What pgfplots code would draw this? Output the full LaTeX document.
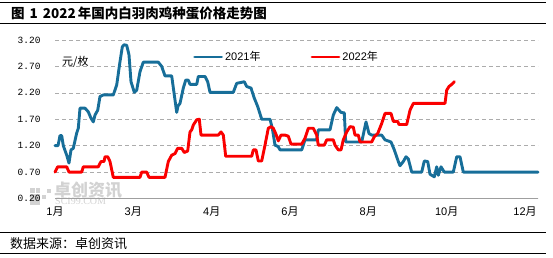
\documentclass[border=0pt]{standalone}
\usepackage{fontspec}
\usepackage{pgfplots}
\pgfplotsset{compat=1.18}
\setmainfont{Liberation Sans}
\newfontfamily\cjk{Noto Sans CJK SC}
\newfontfamily\monof{Liberation Mono}
\newfontfamily\serf{Liberation Serif}
\definecolor{c21}{RGB}{23,110,153}
\definecolor{c22}{RGB}{250,0,0}
\definecolor{wm}{RGB}{210,210,210}
\begin{document}
\begin{tikzpicture}[x=1pt,y=1pt]
\useasboundingbox (0,0) rectangle (553,257);
% header and footer rules
\draw[line width=0.9pt] (0,254.7) -- (546,254.7);
\draw[line width=0.9pt] (0,233.7) -- (546,233.7);
\node[anchor=west, inner sep=0pt, font=\cjk\bfseries\fontsize{13.5}{15}\selectfont] at (11,243.5) {图\hspace{5pt}1\hspace{5pt}2022\hspace{2pt}年国内白羽肉鸡种蛋价格走势图};
\draw[line width=0.9pt] (0,24.7) -- (546,24.7);
\draw[line width=0.9pt] (0,3.7) -- (546,3.7);
\node[anchor=west, inner sep=0pt, font=\cjk\fontsize{13}{14}\selectfont] at (10,13.5) {数据来源：卓创资讯};
% watermark
\fill[wm] (30,52) rectangle (40,63);
\fill[wm] (30,64) rectangle (35,69);
\fill[wm] (36,64) rectangle (40,69);
\fill[wm] (42,58) rectangle (46,62);
\fill[wm] (47,64) rectangle (51,68);
\node[anchor=west, inner sep=0pt, text=wm, font=\cjk\bfseries\fontsize{17}{18}\selectfont] at (54,67) {卓创资讯};
\node[anchor=west, inner sep=0pt, text=wm, font=\serf\fontsize{10}{11}\selectfont] at (55,55.5) {SCI99.COM};
% unit
\node[anchor=west, inner sep=0pt, font=\cjk\fontsize{11}{12}\selectfont] at (62,195) {元/枚};
\begin{axis}[
  at={(55pt,58.5pt)}, anchor=south west,
  scale only axis, width=483pt, height=158.5pt,
  xmin=0, xmax=483, ymin=0.2, ymax=3.2,
  ytick={0.2,0.7,1.2,1.7,2.2,2.7,3.2},
  /pgf/number format/assume math mode=true,
  yticklabel={\monof\pgfmathprintnumber[fixed,fixed zerofill,precision=2]{\tick}},
  xtick={0,78.3,156.7,235,313.3,391.7,470},
  xticklabels={1{\cjk 月},3{\cjk 月},4{\cjk 月},6{\cjk 月},8{\cjk 月},10{\cjk 月},12{\cjk 月}},
  axis x line*=bottom, axis y line*=left,
  x axis line style={draw=gray!75, line width=0.9pt, -},
  y axis line style={draw=none, -},
  major tick length=0pt,
  ymajorgrids,
  grid style={gray!65, line width=0.6pt, dash pattern=on 4pt off 3pt},
  ticklabel style={font=\fontsize{11}{12}\selectfont, text=black},
  yticklabel style={xshift=-11pt, font=\fontsize{9.5}{11}\selectfont},
  xticklabel style={yshift=-5pt},
  legend columns=2,
  legend style={draw=none, fill=none, at={(0.2857,0.893)}, anchor=west, inner sep=0pt,
    font=\fontsize{11}{12}\selectfont,
    /tikz/every even column/.append style={column sep=48pt}},
  legend image code/.code={\draw[#1] (0pt,0pt) -- (27pt,0pt);},
  every axis plot/.append style={line width=2.9pt, line join=round, line cap=round},
  clip=false,
]
\addplot[c21] coordinates {
(0,1.20) (3,1.20) (5,1.39) (6.7,1.39) (8.3,1.20) (11.7,1.02) (14,0.87) (16,1.12) (18.3,1.15) (21.7,1.44) (23.3,1.53) (25,1.91) (30,1.91) (33.3,1.84) (36,1.72) (38.3,1.65) (40,1.78) (42.7,1.87) (45,2.13) (48.3,2.16) (58.3,2.16) (61.7,2.35) (65,2.79) (67.3,3.07) (69,3.11) (71.7,3.10) (74,2.92) (76,2.41) (79.3,2.21) (81.7,2.25) (85,2.60) (88.3,2.78) (103.3,2.78) (106.7,2.70) (110,2.52) (116.7,2.52) (119.3,2.16) (121.7,1.83) (123,1.95) (125,2.00) (128.3,2.29) (130.7,2.44) (133.3,2.44) (135,2.36) (141.7,2.36) (143.3,2.51) (150,2.51) (152.7,2.41) (155,2.21) (178.3,2.21) (181.7,2.38) (189.3,2.41) (191.7,2.32) (196,2.29) (199.3,2.10) (202.7,1.94) (206.7,1.70) (215,1.70) (217.3,1.53) (220,1.21) (223.3,1.18) (225,1.12) (246.7,1.12) (250,1.31) (261.7,1.31) (263.3,1.50) (275,1.50) (278.3,1.78) (281.7,1.92) (286,1.83) (289.3,1.82) (290.7,1.27) (306.7,1.27) (311,1.65) (314,1.43) (316.7,1.40) (326.7,1.40) (330,1.31) (336,1.27) (339.3,1.12) (343.3,0.90) (345,0.82) (348.3,0.90) (351,0.99) (353.3,0.95) (356.7,0.70) (366.7,0.70) (369.3,0.91) (372.7,0.90) (375,0.66) (379.3,0.61) (381.7,0.80) (383.3,0.64) (386,0.80) (389.3,0.70) (398.3,0.70) (401.7,0.99) (405,0.99) (408.3,0.70) (483,0.70)
};
\addlegendentry{2021{\cjk 年}}
\addplot[c22] coordinates {
(0,0.70) (2.7,0.80) (11.7,0.80) (14,0.70) (26.7,0.70) (28.3,0.80) (43.3,0.80) (46,0.90) (49,0.90) (50,0.99) (52.7,0.99) (55,0.90) (58.3,0.60) (85,0.60) (86.7,0.70) (91.7,0.70) (94,0.60) (110,0.60) (113.3,0.90) (116.7,1.02) (120,1.05) (122.7,1.15) (126.7,1.15) (129.3,1.07) (132.7,1.10) (135,1.46) (136.7,1.50) (138.3,1.59) (141.7,1.69) (144.3,1.70) (146,1.40) (163.3,1.40) (166,1.46) (168.3,1.40) (170.7,1.00) (196.7,1.00) (198.3,1.12) (201,1.12) (203.3,0.91) (206.7,0.91) (210,1.21) (213.3,1.53) (216,1.56) (218.3,1.53) (220.7,1.43) (223.3,1.29) (226,1.40) (230,1.40) (233.3,1.38) (236,1.23) (246.7,1.23) (250,1.34) (253.3,1.53) (258.3,1.53) (261.7,1.40) (263.3,1.21) (269.3,1.21) (271.7,1.31) (278.3,1.31) (280,1.21) (283.3,1.12) (286,1.12) (288.3,1.31) (291.7,1.46) (295,1.56) (298.3,1.55) (300,1.40) (303.3,1.40) (305,1.27) (316.7,1.27) (319.3,1.37) (322.7,1.43) (326.7,1.62) (330,1.81) (336,1.81) (338.3,1.66) (342.7,1.66) (344,1.60) (351.7,1.60) (355,1.87) (358.3,2.00) (390,2.00) (391.7,2.25) (394,2.32) (396.7,2.36) (399.3,2.41)
};
\addlegendentry{2022{\cjk 年}}
\end{axis}
\end{tikzpicture}
\end{document}
